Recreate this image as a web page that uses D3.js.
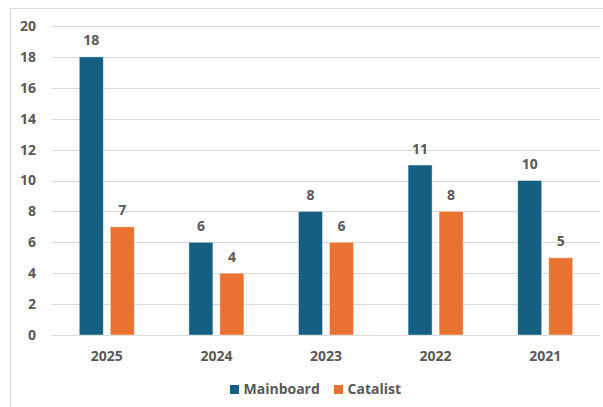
<!DOCTYPE html>
<html>
<head>
<meta charset="utf-8">
<script src="https://cdn.jsdelivr.net/npm/d3@7"></script>
<style>
  html, body { margin: 0; padding: 0; background: #fff; }
  svg { display: block; }
  text { font-family: "Open Sans", "Liberation Sans", sans-serif; font-weight: 700; fill: #595959; }
</style>
</head>
<body>
<svg id="chart" width="603" height="407"></svg>
<script>
// Listings per year by board
const years = ["2025", "2024", "2023", "2022", "2021"];
const seriesNames = ["Mainboard", "Catalist"];
const mainboard = [18, 6, 8, 11, 10];
const catalist = [7, 4, 6, 8, 5];
const yTicks = [0, 2, 4, 6, 8, 10, 12, 14, 16, 18, 20];
const colors = ["#156082", "#E97132"];

const svg = d3.select("#chart");
const W = 603, H = 407;
const plot = { left: 52, right: 600, top: 26, bottom: 335 };
const fontSize = 14;

// Outer chart frame (top and left edges visible)
svg.append("path")
  .attr("d", `M10.5,${H} V8.5 H${W}`)
  .attr("fill", "none")
  .attr("stroke", "#d9d9d9")
  .attr("stroke-width", 1);

const x0 = d3.scaleBand().domain(years).range([plot.left, plot.right]).paddingInner(0).paddingOuter(0);
const y = d3.scaleLinear().domain([0, 20]).range([plot.bottom, plot.top]);

// Horizontal gridlines
svg.append("g")
  .selectAll("line")
  .data(yTicks)
  .join("line")
  .attr("x1", plot.left)
  .attr("x2", plot.right)
  .attr("y1", d => Math.round(y(d)) + 0.5)
  .attr("y2", d => Math.round(y(d)) + 0.5)
  .attr("stroke", "#d9d9d9")
  .attr("stroke-width", 1.2);

// Y axis labels
const yAxis = d3.axisLeft(y).tickValues(yTicks).tickSize(0).tickPadding(0);
const gy = svg.append("g").attr("transform", `translate(36,0)`).call(yAxis);
gy.select(".domain").remove();
gy.selectAll("text").attr("font-size", fontSize).attr("font-family", null);

// X axis labels
const xAxis = d3.axisBottom(x0).tickSize(0).tickPadding(0);
const gx = svg.append("g").attr("transform", `translate(0,${plot.bottom + 16})`).call(xAxis);
gx.select(".domain").remove();
gx.selectAll("text").attr("font-size", fontSize).attr("font-family", null);

// Bars within each year group
const barW = 24, gap = 7;
const x1 = d3.scaleOrdinal().domain(seriesNames).range([-(gap / 2 + barW), gap / 2]);

const rows = years.map((yr, i) => ({ year: yr, values: [mainboard[i], catalist[i]] }));

const groups = svg.append("g")
  .selectAll("g")
  .data(rows)
  .join("g")
  .attr("transform", d => `translate(${x0(d.year) + x0.bandwidth() / 2},0)`);

groups.selectAll("rect")
  .data(d => d.values.map((v, j) => ({ name: seriesNames[j], value: v, j })))
  .join("rect")
  .attr("x", d => x1(d.name))
  .attr("y", d => y(d.value))
  .attr("width", barW)
  .attr("height", d => y(0) - y(d.value))
  .attr("fill", d => colors[d.j])
  .attr("stroke", "#ffffff")
  .attr("stroke-opacity", 0.5)
  .attr("stroke-width", 0.8);

// Value labels above bars
groups.selectAll("text.val")
  .data(d => d.values.map((v, j) => ({ name: seriesNames[j], value: v, j })))
  .join("text")
  .attr("class", "val")
  .attr("x", d => x1(d.name) + barW / 2)
  .attr("y", d => y(d.value) - 11.5)
  .attr("text-anchor", "middle")
  .attr("font-size", fontSize)
  .text(d => d.value);

// Legend
const legendItems = [
  { name: seriesNames[0], color: colors[0], x: 230 },
  { name: seriesNames[1], color: colors[1], x: 334 }
];
const lg = svg.append("g");
lg.selectAll("rect")
  .data(legendItems)
  .join("rect")
  .attr("x", d => d.x)
  .attr("y", 385)
  .attr("width", 9)
  .attr("height", 9)
  .attr("fill", d => d.color);
lg.selectAll("text")
  .data(legendItems)
  .join("text")
  .attr("x", d => d.x + 13.5)
  .attr("y", 394)
  .attr("font-size", fontSize)
  .text(d => d.name);
</script>
</body>
</html>
